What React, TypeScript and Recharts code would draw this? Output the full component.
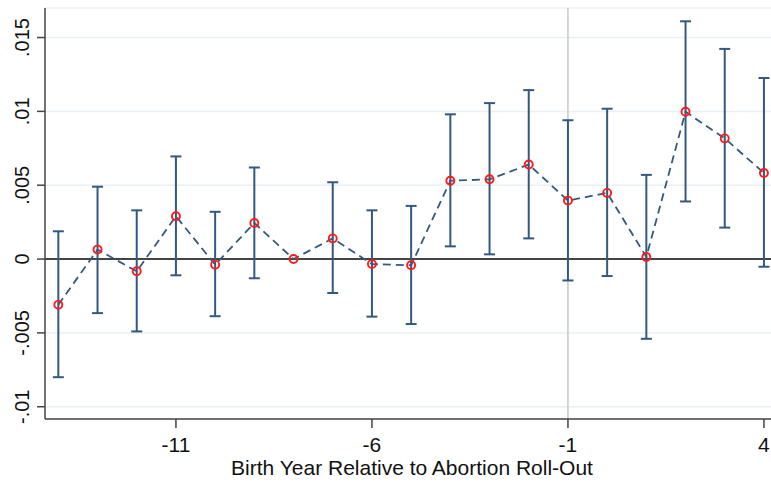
import React from "react";
import {
  ComposedChart,
  Line,
  ErrorBar,
  XAxis,
  YAxis,
  CartesianGrid,
  ReferenceLine,
} from "recharts";

const years = [-14, -13, -12, -11, -10, -9, -8, -7, -6, -5, -4, -3, -2, -1, 0, 1, 2, 3, 4];
const coef = [
  -0.0031, 0.00064, -0.00083, 0.0029, -0.00038, 0.00244, 0.0, 0.0014, -0.00034, -0.00042,
  0.0053, 0.0054, 0.0064, 0.00396, 0.00448, 0.00014, 0.00997, 0.00817, 0.00583,
];
const ciLow = [
  -0.008, -0.00366, -0.0049, -0.0011, -0.00387, -0.0013, null, -0.0023, -0.0039, -0.0044,
  0.00086, 0.00032, 0.0014, -0.00145, -0.00115, -0.0054, 0.0039, 0.00213, -0.00052,
];
const ciHigh = [
  0.00188, 0.0049, 0.0033, 0.00695, 0.0032, 0.0062, null, 0.0052, 0.0033, 0.0036,
  0.0098, 0.01056, 0.01144, 0.0094, 0.01018, 0.0057, 0.0161, 0.01423, 0.01226,
];
const xTicks = [-11, -6, -1, 4];
const yTicks = [-0.01, -0.005, 0, 0.005, 0.01, 0.015];
const yTickLabels = ["-.01", "-.005", "0", ".005", ".01", ".015"];
const xLabel = "Birth Year Relative to Abortion Roll-Out";

const data = years.map((year, i) => ({
  year,
  coef: coef[i],
  err:
    ciLow[i] == null || ciHigh[i] == null
      ? null
      : [coef[i] - (ciLow[i] as number), (ciHigh[i] as number) - coef[i]],
}));

const NAVY = "#32597f";
const FONT = "'Liberation Sans', Arial, sans-serif";

const XTick = (props: any) => {
  const { x, y, payload } = props;
  return (
    <text x={x} y={y + 22} textAnchor="middle" fontFamily={FONT} fontSize={21} fill="#111">
      {payload.value}
    </text>
  );
};

const YTick = (props: any) => {
  const { y, payload } = props;
  const idx = yTicks.findIndex((t) => Math.abs(t - payload.value) < 1e-9);
  const label = idx >= 0 ? yTickLabels[idx] : String(payload.value);
  return (
    <g transform={`translate(28.5,${y}) rotate(-90)`}>
      <text x={0} y={0} textAnchor="middle" fontFamily={FONT} fontSize={20} fill="#111">
        {label}
      </text>
    </g>
  );
};

const RedDot = (props: any) => {
  const { cx, cy } = props;
  if (cx == null || cy == null) return null;
  return <circle cx={cx} cy={cy} r={4} fill="none" stroke="#ff1a1a" strokeWidth={1.9} />;
};

export default function App() {
  return (
    <div style={{ position: "absolute", left: 0, top: 0, background: "#fff" }}>
      <ComposedChart
        width={771}
        height={483}
        data={data}
        margin={{ top: 8, right: 0, bottom: 0, left: 0 }}
      >
        <CartesianGrid vertical={false} stroke="#e9eff3" strokeWidth={1.5} />
        <XAxis
          dataKey="year"
          type="number"
          domain={[-14.34, 4.18]}
          ticks={xTicks}
          allowDataOverflow
          height={64}
          tickSize={9}
          stroke="#444"
          strokeWidth={1.5}
          tick={<XTick />}
          label={{
            value: xLabel,
            position: "insideBottom",
            offset: 8,
            dx: 4,
            fontFamily: FONT,
            fontSize: 21,
            fill: "#111",
          }}
        />
        <YAxis
          type="number"
          domain={[-0.01083, 0.017]}
          ticks={yTicks}
          allowDataOverflow
          width={45}
          tickSize={8}
          stroke="#444"
          strokeWidth={1.5}
          tick={<YTick />}
        />
        <ReferenceLine x={-1} stroke="#c8c8c8" strokeWidth={1.5} />
        <ReferenceLine y={0} stroke="#444" strokeWidth={2} />
        <Line
          dataKey="coef"
          stroke={NAVY}
          strokeWidth={1.8}
          strokeDasharray="8 5"
          dot={<RedDot />}
          activeDot={false}
          isAnimationActive={false}
        >
          <ErrorBar dataKey="err" direction="y" width={5.5} stroke={NAVY} strokeWidth={2} />
        </Line>
      </ComposedChart>
    </div>
  );
}
